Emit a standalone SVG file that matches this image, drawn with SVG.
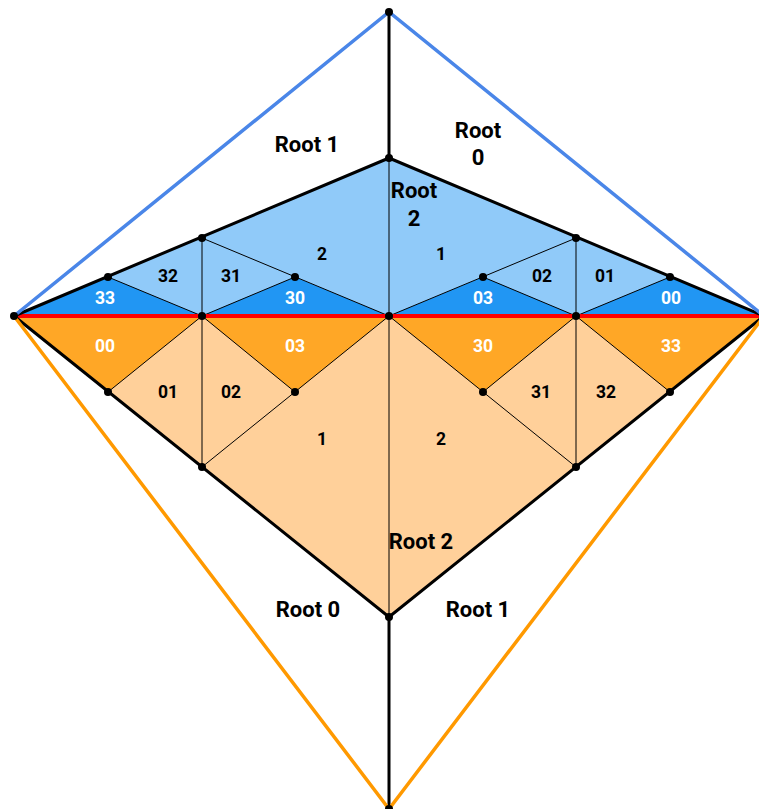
<svg xmlns="http://www.w3.org/2000/svg" width="759" height="809" viewBox="0 0 759 809">
<style>
.lb{fill:#90CAF9}
.db{fill:#2196F3}
.lo{fill:#FFD09A}
.do{fill:#FFA726}
.thin{stroke:#000;stroke-width:1;fill:none}
.thick{stroke:#000;stroke-width:3;fill:none;stroke-linejoin:miter}
.big{font-family:Roboto,"Liberation Sans",sans-serif;font-weight:bold;font-size:22px;fill:#000;text-anchor:middle}
.sm{font-family:Roboto,"Liberation Sans",sans-serif;font-weight:bold;font-size:17.5px;text-anchor:middle}
.k{fill:#000}
.w{fill:#fff}
.dot{fill:#000}
</style>
<rect width="759" height="809" fill="#fff"/>
<g id="fills">
<polygon class="lb" points="14,316 389,158 764,316"/>
<polygon class="db" points="14,316 108,277 202,316"/>
<polygon class="db" points="202,316 295,277 389,316"/>
<polygon class="db" points="389,316 483,277 576,316"/>
<polygon class="db" points="576,316 670,277 764,316"/>
<polygon class="lo" points="14,316 389,617 764,316"/>
<polygon class="do" points="14,316 202,316 108,392"/>
<polygon class="do" points="202,316 389,316 295,392"/>
<polygon class="do" points="389,316 576,316 483,392"/>
<polygon class="do" points="576,316 764,316 670,392"/>
</g>
<g id="connectors">
<path class="thin" d="M389,158V316M202,238V316M202,238L389,316M108,277L202,316M202,316L295,277M576,238V316M576,238L389,316M670,277L576,316M576,316L483,277"/>
<path class="thin" d="M389,316V617M202,316V467M389,316L202,467M202,316L108,392M202,316L295,392M576,316V467M389,316L576,467M576,316L670,392M576,316L483,392"/>
<line x1="14" y1="316" x2="764" y2="316" stroke="#FF0000" stroke-width="4"/>
<path class="thick" d="M14,316L389,158L764,316M14,316L389,617L764,316M389,12V158M389,617V809"/>
<path d="M14,316L389,12L764,316" stroke="#4A86E8" stroke-width="3.5" fill="none"/>
<path d="M14,316L389,809L764,316" stroke="#FF9900" stroke-width="3.5" fill="none"/>
</g>
<g id="vertices">
<circle class="dot" cx="389" cy="12" r="4"/>
<circle class="dot" cx="389" cy="158" r="4"/>
<circle class="dot" cx="14" cy="316" r="4"/>
<circle class="dot" cx="764" cy="316" r="4"/>
<circle class="dot" cx="108" cy="277" r="4"/>
<circle class="dot" cx="202" cy="238" r="4"/>
<circle class="dot" cx="295" cy="277" r="4"/>
<circle class="dot" cx="483" cy="277" r="4"/>
<circle class="dot" cx="576" cy="238" r="4"/>
<circle class="dot" cx="670" cy="277" r="4"/>
<circle class="dot" cx="202" cy="316" r="4"/>
<circle class="dot" cx="389" cy="316" r="4"/>
<circle class="dot" cx="576" cy="316" r="4"/>
<circle class="dot" cx="108" cy="392" r="4"/>
<circle class="dot" cx="295" cy="392" r="4"/>
<circle class="dot" cx="483" cy="392" r="4"/>
<circle class="dot" cx="670" cy="392" r="4"/>
<circle class="dot" cx="202" cy="467" r="4"/>
<circle class="dot" cx="576" cy="467" r="4"/>
<circle class="dot" cx="389" cy="617" r="4"/>
<circle class="dot" cx="389" cy="809" r="4"/>
</g>
<g id="root-labels">
<text class="big" x="307" y="152">Root 1</text>
<text class="big" x="478" y="138">Root</text>
<text class="big" x="478" y="165">0</text>
<text class="big" x="414" y="198">Root</text>
<text class="big" x="414" y="226">2</text>
<text class="big" x="421" y="549">Root 2</text>
<text class="big" x="308" y="617">Root 0</text>
<text class="big" x="478" y="617">Root 1</text>
</g>
<g id="cell-labels">
<text class="sm w" x="105" y="304">33</text>
<text class="sm k" x="168" y="282">32</text>
<text class="sm k" x="231" y="282">31</text>
<text class="sm w" x="295" y="304">30</text>
<text class="sm k" x="322" y="260">2</text>
<text class="sm k" x="441" y="260">1</text>
<text class="sm w" x="483" y="304">03</text>
<text class="sm k" x="542" y="282">02</text>
<text class="sm k" x="605" y="282">01</text>
<text class="sm w" x="671" y="304">00</text>
<text class="sm w" x="105" y="352">00</text>
<text class="sm w" x="295" y="352">03</text>
<text class="sm w" x="483" y="352">30</text>
<text class="sm w" x="671" y="352">33</text>
<text class="sm k" x="168" y="398">01</text>
<text class="sm k" x="231" y="398">02</text>
<text class="sm k" x="541" y="398">31</text>
<text class="sm k" x="606" y="398">32</text>
<text class="sm k" x="322" y="445">1</text>
<text class="sm k" x="441" y="445">2</text>
</g>
</svg>
